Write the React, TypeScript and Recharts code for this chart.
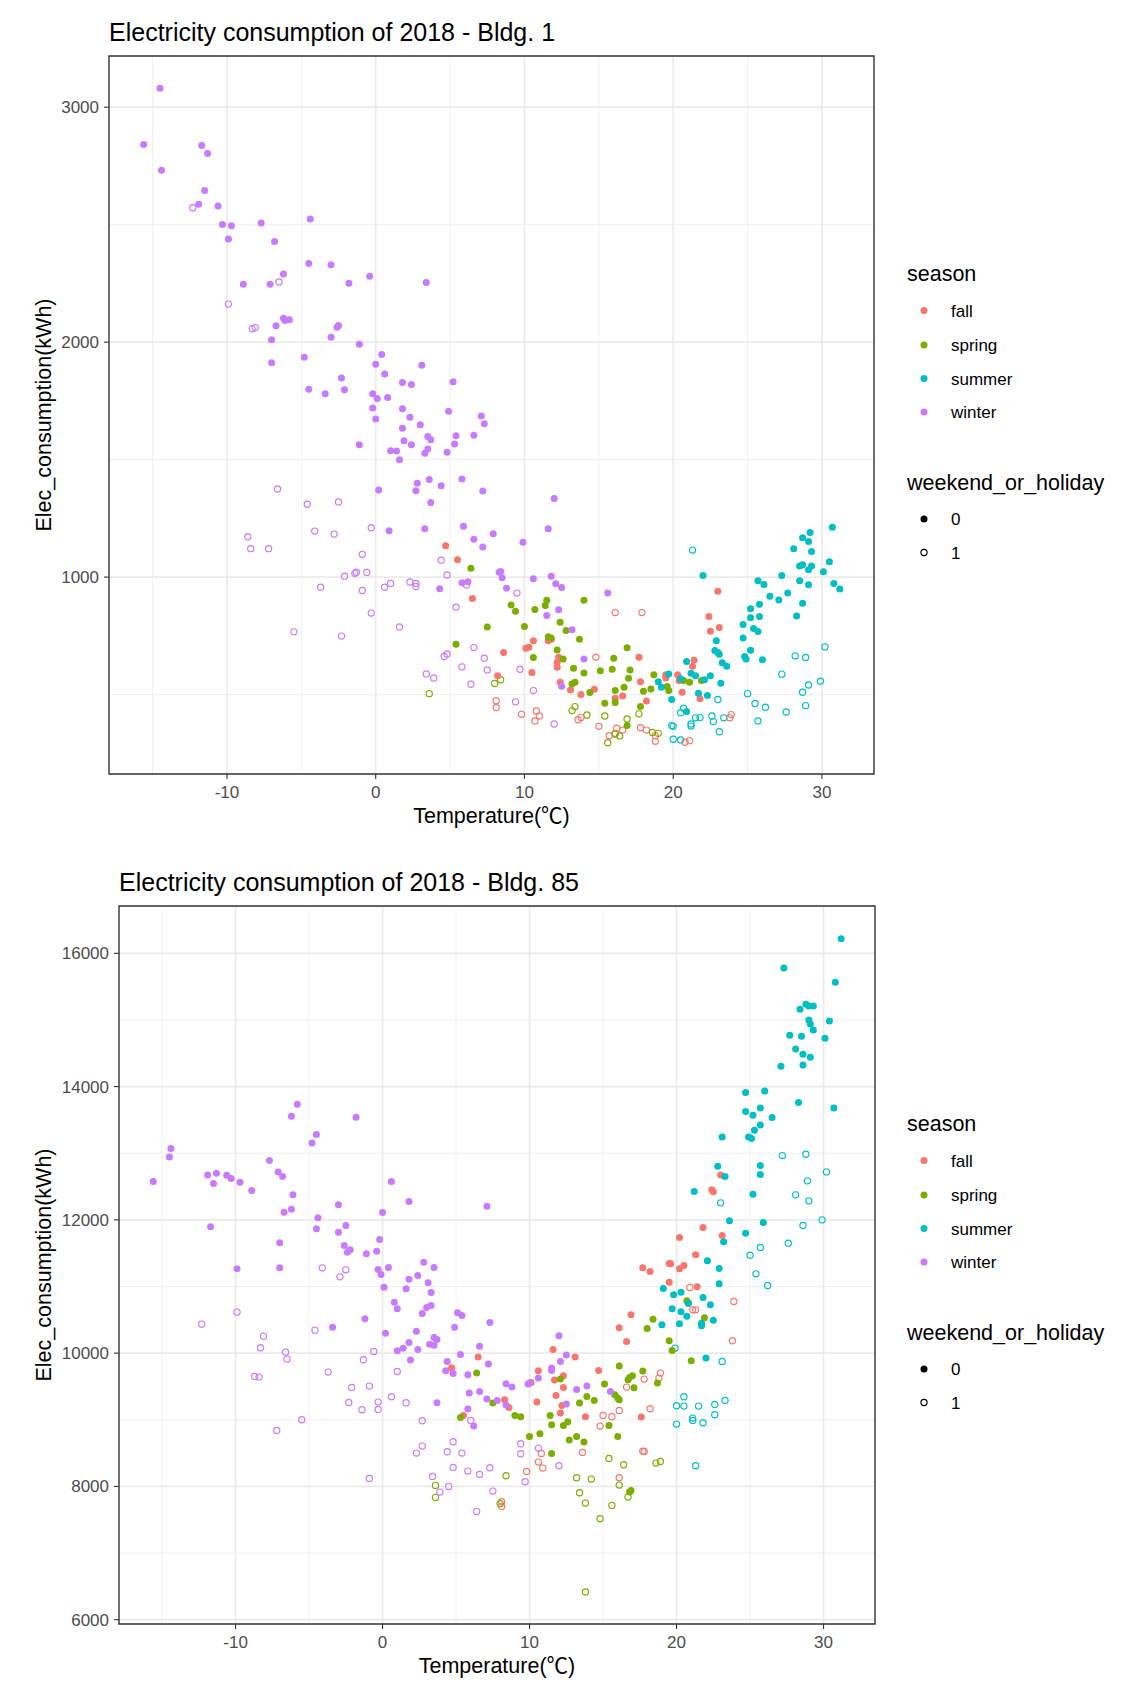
import React from "react"
import { ScatterChart, Scatter, XAxis, YAxis, ReferenceLine, ReferenceArea } from "recharts"

type Pt = [number, number]

const FONT = '"Liberation Sans", Arial, "DejaVu Sans", sans-serif'
const CJK_FONT = '"Noto Sans CJK KR", "Noto Sans CJK SC", sans-serif'

const SEASONS = ["fall", "spring", "summer", "winter"]
const SEASON_COLORS: Record<string, string> = {
    fall: "#F8766D",
    spring: "#7CAE00",
    summer: "#00BFC4",
    winter: "#C77CFF",
}

const X_TICKS = [-10, 0, 10, 20, 30]
const X_MINOR = [-15, -5, 5, 15, 25]
const X_DOMAIN: [number, number] = [-17.93, 33.5]

const B1_Y_TICKS = [1000, 2000, 3000]
const B1_Y_MINOR = [500, 1500, 2500]
const B1_Y_DOMAIN: [number, number] = [162, 3218]

const B85_Y_TICKS = [6000, 8000, 10000, 12000, 14000, 16000]
const B85_Y_MINOR = [7000, 9000, 11000, 13000, 15000]
const B85_Y_DOMAIN: [number, number] = [5935, 16710]

// ---- Bldg. 1 : [temperature, kWh] ----
const b1WinterWork: Pt[] = [
    [-14.5, 3081], [-15.6, 2841], [-11.7, 2837], [-11.3, 2803], [-14.4, 2732], [-11.5, 2646], [-11.9, 2587],
    [-10.6, 2580], [-10.3, 2501], [-9.7, 2496], [-7.7, 2507], [-4.4, 2524], [-9.9, 2439], [-6.8, 2428],
    [-4.5, 2335], [-3.0, 2330], [-6.2, 2290], [-8.9, 2246], [-7.1, 2246], [-1.8, 2251], [-0.4, 2281],
    [3.4, 2254], [-6.7, 2070], [-6.2, 2102], [-6.1, 2092], [-5.8, 2095], [-2.6, 2064], [-2.5, 2071],
    [-3.0, 2021], [-7.0, 2010], [-1.1, 1991], [-4.8, 1936], [-7.0, 1912], [0.4, 1947], [0.0, 1906],
    [3.1, 1902], [0.6, 1865], [-2.3, 1847], [1.8, 1828], [2.4, 1820], [5.2, 1832], [-4.5, 1800],
    [-3.4, 1780], [-2.1, 1797], [-0.2, 1780], [0.1, 1760], [0.8, 1764], [-0.2, 1720], [1.8, 1717],
    [4.9, 1706], [7.1, 1686], [7.3, 1653], [0.0, 1673], [2.3, 1680], [3.0, 1648], [1.8, 1634],
    [-1.1, 1563], [1.0, 1538], [1.4, 1537], [1.6, 1500], [1.9, 1580], [2.4, 1563], [3.5, 1599],
    [3.7, 1585], [3.3, 1527], [3.5, 1545], [4.8, 1531], [5.3, 1567], [5.4, 1602], [6.6, 1604],
    [0.2, 1371], [2.8, 1399], [2.7, 1368], [3.6, 1415], [4.4, 1389], [5.8, 1418], [7.2, 1366],
    [3.7, 1318], [0.9, 1197], [3.3, 1206], [5.9, 1217], [6.6, 1161], [7.2, 1128], [7.9, 1185],
    [4.3, 950], [5.8, 976], [6.2, 980], [8.3, 1021], [9.9, 1148], [12.0, 1335], [11.6, 1206],
    [8.4, 1024], [8.5, 997], [8.8, 953], [10.6, 993], [11.8, 1004], [12.1, 972], [12.5, 956],
    [11.5, 837], [12.3, 861], [13.2, 776], [14.0, 651], [12.5, 536], [15.6, 932],
]
const b1WinterOff: Pt[] = [
    [-12.3, 2572], [-6.5, 2256], [-9.9, 2162], [-8.3, 2057], [-8.1, 2062], [-6.6, 1375], [-4.6, 1310],
    [-2.5, 1320], [-4.1, 1196], [-2.8, 1183], [-8.6, 1172], [-8.4, 1121], [-7.2, 1121], [-0.3, 1210],
    [-0.9, 1097], [-2.1, 1004], [-1.4, 1016], [-1.3, 1021], [-0.6, 1020], [-3.7, 957], [-0.9, 943],
    [0.6, 957], [1.0, 973], [2.3, 979], [2.7, 973], [2.7, 960], [-0.3, 847], [-5.5, 767], [-2.3, 749],
    [1.6, 788], [4.4, 1072], [4.8, 1009], [6.1, 966], [5.4, 872], [6.6, 700], [4.6, 662], [4.8, 673],
    [5.8, 618], [7.3, 655], [7.5, 605], [3.4, 588], [3.9, 571], [6.4, 544], [9.5, 932], [9.7, 608],
    [10.6, 517], [9.4, 469], [12.0, 375],
]
const b1FallWork: Pt[] = [
    [4.7, 1134], [5.5, 1074], [6.5, 909], [8.2, 580], [8.6, 679], [10.1, 697], [10.3, 702], [10.6, 729],
    [10.5, 594], [11.6, 729], [11.8, 736], [12.3, 659], [12.2, 638], [12.2, 616], [12.4, 553], [13.1, 520],
    [13.8, 500], [14.7, 523], [16.1, 484], [16.6, 494], [17.7, 659], [17.8, 555], [18.2, 473], [19.5, 584],
    [19.5, 571], [20.3, 584], [20.4, 560], [20.6, 510], [21.4, 646], [21.3, 621], [21.8, 482], [22.4, 832],
    [22.5, 770], [23.1, 786], [23.0, 940],
]
const b1FallOff: Pt[] = [
    [8.1, 474], [8.1, 445], [16.1, 849], [17.9, 849], [14.8, 659], [9.8, 416], [10.8, 430], [11.0, 409],
    [10.7, 388], [13.6, 393], [13.8, 403], [15.0, 365], [15.7, 325], [16.2, 357], [16.6, 349], [16.1, 335],
    [17.8, 359], [18.2, 349], [18.8, 325], [18.8, 301], [20.8, 297], [21.1, 304], [23.9, 415], [23.8, 401],
]
const b1SpringWork: Pt[] = [
    [6.4, 1038], [7.5, 788], [5.4, 714], [9.1, 881], [9.4, 855], [10.7, 862], [11.4, 879], [11.5, 901],
    [14.0, 901], [10.0, 790], [12.4, 808], [12.8, 773], [11.6, 746], [11.8, 741], [13.7, 736], [10.6, 658],
    [12.2, 690], [12.6, 651], [13.3, 612], [14.0, 592], [13.4, 553], [13.2, 545], [14.4, 509], [15.1, 601],
    [15.9, 608], [16.0, 655], [15.4, 463], [16.1, 517], [16.1, 466], [16.9, 699], [17.1, 605], [17.0, 570],
    [16.7, 531], [18.0, 514], [17.8, 449], [18.7, 584], [18.5, 524], [16.9, 368], [19.7, 517], [19.6, 534],
    [20.7, 560], [21.1, 553], [21.9, 560],
]
const b1SpringOff: Pt[] = [
    [3.6, 504], [8.0, 547], [8.4, 563], [13.2, 432], [13.4, 449], [14.2, 413], [15.4, 409], [15.6, 295],
    [16.1, 332], [16.4, 324], [16.9, 396], [17.7, 418], [18.6, 339], [19.0, 335],
]
const b1SummerWork: Pt[] = [
    [22.0, 1007], [19.0, 555], [19.2, 531], [19.9, 479], [19.7, 588], [20.5, 567], [20.9, 641], [21.2, 591],
    [21.5, 580], [20.9, 428], [21.7, 506], [22.1, 563], [22.5, 580], [22.3, 496], [23.2, 548], [22.9, 729],
    [22.8, 688], [23.0, 679], [23.1, 672], [23.3, 635], [23.6, 621], [24.7, 798], [24.7, 741], [24.8, 662],
    [24.9, 651], [25.2, 865], [25.2, 827], [25.2, 689], [25.4, 781], [25.7, 768], [25.8, 832], [26.0, 648],
    [25.7, 984], [26.1, 969], [25.8, 884], [26.5, 919], [27.1, 903], [27.3, 1007], [27.7, 932], [28.1, 1121],
    [28.5, 1047], [28.7, 1053], [28.5, 984], [28.7, 889], [28.3, 835], [28.7, 1168], [29.1, 1152],
    [29.2, 1190], [29.3, 1109], [29.1, 1031], [29.3, 1047], [29.1, 967], [30.1, 1023], [30.5, 1065],
    [30.7, 1212], [30.8, 973], [31.2, 949],
]
const b1SummerOff: Pt[] = [
    [21.3, 1115], [23.0, 479], [22.6, 409], [22.7, 385], [23.1, 342], [23.4, 401], [21.5, 401], [21.8, 402],
    [21.2, 375], [21.2, 366], [20.5, 423], [20.7, 442], [19.9, 368], [20.0, 365], [20.0, 310], [20.5, 307],
    [25.0, 504], [25.5, 462], [25.7, 388], [26.2, 446], [27.3, 587], [27.6, 426], [28.2, 665], [28.9, 658],
    [29.1, 541], [28.7, 510], [28.9, 453], [29.9, 557], [30.2, 703],
]

// ---- Bldg. 85 ----
const b85WinterWork: Pt[] = [
    [-15.6, 12575], [-14.5, 12945], [-14.4, 13070], [-11.9, 12675], [-11.3, 12700], [-11.5, 12545],
    [-10.6, 12670], [-10.3, 12620], [-9.7, 12565], [-8.9, 12440], [-11.7, 11895], [-7.7, 12890],
    [-7.1, 12720], [-6.8, 12650], [-6.2, 13555], [-5.8, 13735], [-6.1, 12375], [-6.7, 12115], [-6.2, 12160],
    [-4.8, 13155], [-4.5, 13280], [-4.4, 12030], [-4.5, 11865], [-1.8, 13540], [-3.0, 12225], [-3.0, 11815],
    [-2.5, 11915], [-7.0, 11655], [-9.9, 11265], [-7.0, 11280], [-2.6, 11615], [-2.4, 11515], [-2.2, 11550],
    [-1.1, 11490], [-0.4, 11530], [-0.2, 11705], [0.0, 12110], [0.6, 12575], [1.8, 12275], [7.1, 12205],
    [-0.3, 11255], [-0.1, 11180], [0.4, 11285], [1.8, 11110], [2.4, 11165], [2.8, 11365], [3.5, 11285],
    [0.1, 10990], [0.8, 10765], [1.0, 10665], [1.6, 10965], [3.1, 11055], [3.3, 10910], [2.7, 10595],
    [3.0, 10685], [3.3, 10715], [-1.2, 10515], [-3.4, 10390], [0.2, 10300], [2.3, 10330], [1.0, 10035],
    [1.4, 10075], [1.8, 10160], [2.4, 10055], [1.9, 9895], [3.5, 10235], [3.7, 10205], [3.2, 10135],
    [3.5, 10120], [5.1, 10605], [5.4, 10565], [4.9, 10390], [7.3, 10460], [6.6, 10105], [5.3, 9980],
    [4.4, 9875], [4.3, 9735], [4.8, 9695], [5.8, 9675], [7.2, 9835], [5.9, 9400], [6.6, 9425], [7.1, 9310],
    [7.8, 9290], [3.7, 9255], [5.8, 9160], [6.2, 8905], [12.0, 10260], [12.5, 9970], [12.1, 9875],
    [11.5, 9775], [11.5, 9740], [10.6, 9625], [9.9, 9535], [10.0, 9550], [8.4, 9540], [8.8, 9490],
    [8.4, 9220], [13.2, 9455], [13.9, 9505], [15.5, 9425], [12.5, 9235],
]
const b85WinterOff: Pt[] = [
    [-4.1, 11280], [-2.5, 11250], [-2.9, 11145], [-12.3, 10435], [-9.9, 10615], [-8.1, 10255], [-8.3, 10080],
    [-6.6, 10015], [-6.5, 9910], [-8.7, 9650], [-8.4, 9640], [-4.6, 10345], [-3.7, 9715], [-1.3, 9900],
    [-0.6, 10025], [-2.1, 9485], [-0.9, 9505], [-2.3, 9260], [-1.4, 9150], [-0.3, 9265], [-0.3, 9155],
    [0.6, 9345], [1.0, 9725], [1.6, 9255], [-5.5, 9000], [-7.2, 8840], [2.7, 8985], [2.3, 8500], [2.7, 8605],
    [4.4, 8520], [4.8, 8670], [5.4, 8500], [6.0, 8990], [4.8, 8285], [5.8, 8230], [6.6, 8180], [7.3, 8280],
    [3.4, 8150], [-0.9, 8120], [3.9, 7915], [4.5, 8000], [7.5, 7930], [6.4, 7625], [9.4, 8640], [9.4, 8490],
    [10.6, 8575], [12.0, 8310], [9.7, 8070],
]
const b85FallWork: Pt[] = [
    [6.5, 9940], [4.7, 9780], [5.5, 9065], [17.7, 11280], [18.2, 11225], [19.5, 11345], [19.6, 11340],
    [20.2, 11265], [20.5, 11315], [21.3, 11475], [19.5, 11065], [21.4, 10995], [16.9, 10575], [16.1, 10380],
    [16.6, 10175], [11.6, 10055], [13.1, 9940], [14.7, 9740], [10.6, 9735], [10.1, 9560], [11.7, 9595],
    [12.3, 9660], [12.3, 9485], [11.8, 9365], [10.5, 9265], [12.2, 9215], [12.1, 9100], [8.3, 9300],
    [8.6, 9185], [13.8, 9045], [17.6, 9040], [23.0, 12675], [22.4, 12450], [22.5, 12420], [21.8, 11885],
    [20.2, 11735], [23.1, 11765],
]
const b85FallOff: Pt[] = [
    [8.1, 7770], [8.1, 7700], [20.9, 10985], [21.1, 10650], [21.3, 10650], [23.9, 10775], [23.8, 10185],
    [18.9, 9700], [18.8, 9625], [17.8, 9610], [16.6, 9490], [15.0, 9065], [15.6, 9045], [14.8, 8905],
    [16.1, 9140], [18.2, 9165], [10.8, 8495], [10.6, 8365], [10.9, 8275], [9.8, 8225], [13.6, 8510],
    [16.1, 8130], [17.7, 8530], [17.8, 8525],
]
const b85SpringWork: Pt[] = [
    [6.4, 9700], [7.5, 9250], [5.3, 9035], [20.7, 10785], [20.8, 10750], [18.4, 10510], [18.0, 10370],
    [19.5, 10185], [19.7, 10040], [21.0, 9885], [21.9, 10530], [16.1, 9805], [17.7, 9730], [16.7, 9600],
    [16.8, 9635], [17.0, 9660], [17.1, 9480], [15.1, 9535], [18.7, 9550], [12.1, 9610], [13.4, 9250],
    [13.9, 9350], [14.4, 9290], [15.8, 9375], [16.0, 9325], [16.1, 9300], [9.0, 9065], [9.4, 9045],
    [11.4, 9065], [11.5, 8925], [12.3, 8915], [12.6, 8970], [10.0, 8750], [10.7, 8790], [12.7, 8695],
    [13.2, 8750], [13.7, 8665], [15.4, 8915], [16.0, 8750], [11.5, 8495], [16.9, 7940], [16.8, 7915],
]
const b85SpringOff: Pt[] = [
    [3.6, 8015], [3.6, 7835], [8.0, 7740], [15.4, 8420], [16.4, 8325], [18.6, 8350], [18.9, 8375],
    [8.4, 8160], [13.2, 8130], [14.2, 8110], [13.4, 7905], [13.8, 7750], [15.6, 7715], [14.8, 7515],
    [16.1, 8020], [16.7, 7840], [13.8, 6415],
]
const b85SummerWork: Pt[] = [
    [22.1, 11385], [22.9, 11270], [22.9, 11040], [19.1, 10970], [19.8, 10875], [20.3, 10915], [21.8, 10835],
    [20.8, 10750], [19.7, 10665], [20.3, 10620], [20.7, 10555], [22.3, 10725], [22.5, 10495], [19.0, 10425],
    [20.2, 10440], [21.7, 10450], [21.7, 10410], [22.0, 9925], [31.2, 16220], [27.3, 15780], [30.8, 15565],
    [28.4, 15160], [28.8, 15235], [29.0, 15210], [29.3, 15210], [29.0, 15000], [29.1, 14940], [30.4, 14985],
    [29.3, 14850], [27.7, 14770], [28.5, 14755], [30.1, 14725], [28.1, 14565], [28.6, 14485], [29.1, 14440],
    [28.6, 14325], [27.1, 14305], [24.7, 13910], [26.0, 13935], [24.7, 13625], [25.2, 13570], [25.7, 13680],
    [26.5, 13535], [25.7, 13425], [25.3, 13345], [24.9, 13245], [25.1, 13220], [23.1, 13245], [28.3, 13760],
    [30.7, 13680], [22.8, 12805], [23.3, 12650], [25.7, 12815], [25.7, 12680], [21.2, 12425], [25.2, 12385],
    [23.6, 11985], [25.9, 11960], [24.7, 11800], [23.2, 11670],
]
const b85SummerOff: Pt[] = [
    [25.0, 11470], [25.4, 11190], [26.2, 11015], [19.9, 10075], [23.1, 9875], [20.5, 9345], [20.0, 9210],
    [20.5, 9205], [21.5, 9205], [21.1, 9025], [21.1, 8990], [21.8, 8955], [20.0, 8935], [22.6, 9230],
    [22.6, 9075], [23.3, 9290], [21.3, 8310], [27.2, 12965], [28.8, 12985], [30.2, 12720], [28.9, 12585],
    [28.1, 12375], [29.0, 12285], [23.0, 12255], [29.9, 12000], [28.6, 11915], [27.6, 11650], [25.7, 11585],
]

interface Series {
    season: string
    off: boolean
    data: Pt[]
}

const bldg1: Series[] = [
    { season: "fall", off: true, data: b1FallOff },
    { season: "spring", off: true, data: b1SpringOff },
    { season: "summer", off: true, data: b1SummerOff },
    { season: "winter", off: true, data: b1WinterOff },
    { season: "fall", off: false, data: b1FallWork },
    { season: "spring", off: false, data: b1SpringWork },
    { season: "summer", off: false, data: b1SummerWork },
    { season: "winter", off: false, data: b1WinterWork },
]

const bldg85: Series[] = [
    { season: "fall", off: true, data: b85FallOff },
    { season: "spring", off: true, data: b85SpringOff },
    { season: "summer", off: true, data: b85SummerOff },
    { season: "winter", off: true, data: b85WinterOff },
    { season: "fall", off: false, data: b85FallWork },
    { season: "spring", off: false, data: b85SpringWork },
    { season: "summer", off: false, data: b85SummerWork },
    { season: "winter", off: false, data: b85WinterWork },
]

function makeDot(color: string, open: boolean) {
    return (props: any) => {
        const { cx, cy } = props
        if (cx == null || cy == null) return <g />
        return open ? (
            <circle cx={cx} cy={cy} r={3.1} fill="#fff" fillOpacity={0} stroke={color} strokeWidth={1.15} />
        ) : (
            <circle cx={cx} cy={cy} r={3.5} fill={color} />
        )
    }
}

interface ChartProps {
    title: string
    top: number
    height: number
    plotLeft: number
    plotRight: number
    yDomain: [number, number]
    yTicks: number[]
    yMinor: number[]
    series: Series[]
}

const PLOT_TOP = 56
const PLOT_BOTTOM = 774
const X_AXIS_H = 30
const WIDTH = 1140

function BuildingChart({ title, top, height, plotLeft, plotRight, yDomain, yTicks, yMinor, series }: ChartProps) {
    const tickStyle = { fill: "#4D4D4D", fontSize: 17, fontFamily: FONT }
    const centerX = (plotLeft + plotRight) / 2
    const centerY = (PLOT_TOP + PLOT_BOTTOM) / 2
    const legendRows = [310.5, 345, 378.5, 412]

    return (
        <div style={{ position: "absolute", left: 0, top, width: WIDTH, height }}>
            <ScatterChart
                width={WIDTH}
                height={height}
                margin={{ top: PLOT_TOP, right: WIDTH - plotRight, left: 0, bottom: height - PLOT_BOTTOM - X_AXIS_H }}
            >
                <XAxis
                    type="number"
                    dataKey="x"
                    domain={X_DOMAIN}
                    ticks={X_TICKS}
                    allowDataOverflow
                    height={X_AXIS_H}
                    axisLine={false}
                    tickLine={{ stroke: "#333333", strokeWidth: 1.1 }}
                    tickSize={5}
                    tickMargin={7}
                    tick={tickStyle}
                />
                <YAxis
                    type="number"
                    dataKey="y"
                    domain={yDomain}
                    ticks={yTicks}
                    allowDataOverflow
                    width={plotLeft}
                    axisLine={false}
                    tickLine={{ stroke: "#333333", strokeWidth: 1.1 }}
                    tickSize={5}
                    tickMargin={5}
                    tick={tickStyle}
                />
                {X_MINOR.map((v) => (
                    <ReferenceLine key={"xm" + v} x={v} stroke="#F0F0F0" strokeWidth={1} zIndex={-10} />
                ))}
                {yMinor.map((v) => (
                    <ReferenceLine key={"ym" + v} y={v} stroke="#F0F0F0" strokeWidth={1} zIndex={-10} />
                ))}
                {X_TICKS.map((v) => (
                    <ReferenceLine key={"x" + v} x={v} stroke="#EBEBEB" strokeWidth={1.8} zIndex={-5} />
                ))}
                {yTicks.map((v) => (
                    <ReferenceLine key={"y" + v} y={v} stroke="#EBEBEB" strokeWidth={1.8} zIndex={-5} />
                ))}
                {series.map((s, i) => (
                    <Scatter
                        key={i}
                        data={s.data.map(([x, y]) => ({ x, y }))}
                        shape={makeDot(SEASON_COLORS[s.season], s.off)}
                        isAnimationActive={false}
                    />
                ))}
                <ReferenceArea
                    x1={X_DOMAIN[0]}
                    x2={X_DOMAIN[1]}
                    y1={yDomain[0]}
                    y2={yDomain[1]}
                    fill="none"
                    fillOpacity={0}
                    stroke="#333333"
                    strokeWidth={1.4}
                    zIndex={900}
                />
            </ScatterChart>

            <svg
                width={WIDTH}
                height={height}
                style={{ position: "absolute", left: 0, top: 0, pointerEvents: "none", fontFamily: FONT }}
            >
                <text x={plotLeft} y={41} fontSize={25} fill="#000">
                    {title}
                </text>
                <text x={centerX} y={823} fontSize={21.5} fill="#000" textAnchor="middle">
                    Temperature(<tspan fontFamily={CJK_FONT}>℃</tspan>)
                </text>
                <text
                    x={50.5}
                    y={centerY}
                    fontSize={21.5}
                    fill="#000"
                    textAnchor="middle"
                    transform={`rotate(-90 50.5 ${centerY})`}
                >
                    Elec_consumption(kWh)
                </text>

                {/* legend */}
                <text x={907} y={281} fontSize={21.5} fill="#000">
                    season
                </text>
                {SEASONS.map((s, i) => (
                    <g key={s}>
                        <circle cx={924} cy={legendRows[i]} r={3.5} fill={SEASON_COLORS[s]} />
                        <text x={951} y={legendRows[i] + 6} fontSize={17} fill="#000">
                            {s}
                        </text>
                    </g>
                ))}
                <text x={907} y={490} fontSize={21.5} fill="#000">
                    weekend_or_holiday
                </text>
                <circle cx={924} cy={519} r={3.5} fill="#000" />
                <text x={951} y={525} fontSize={17} fill="#000">
                    0
                </text>
                <circle cx={924} cy={552.5} r={3.1} fill="none" stroke="#000" strokeWidth={1.15} />
                <text x={951} y={558.5} fontSize={17} fill="#000">
                    1
                </text>
            </svg>
        </div>
    )
}

export default function App() {
    return (
        <div style={{ position: "absolute", left: 0, top: 0, width: WIDTH, height: 1694, background: "#fff" }}>
            <BuildingChart
                title="Electricity consumption of 2018 - Bldg. 1"
                top={0}
                height={850}
                plotLeft={109}
                plotRight={874}
                yDomain={B1_Y_DOMAIN}
                yTicks={B1_Y_TICKS}
                yMinor={B1_Y_MINOR}
                series={bldg1}
            />
            <BuildingChart
                title="Electricity consumption of 2018 - Bldg. 85"
                top={850}
                height={844}
                plotLeft={119}
                plotRight={875}
                yDomain={B85_Y_DOMAIN}
                yTicks={B85_Y_TICKS}
                yMinor={B85_Y_MINOR}
                series={bldg85}
            />
        </div>
    )
}
